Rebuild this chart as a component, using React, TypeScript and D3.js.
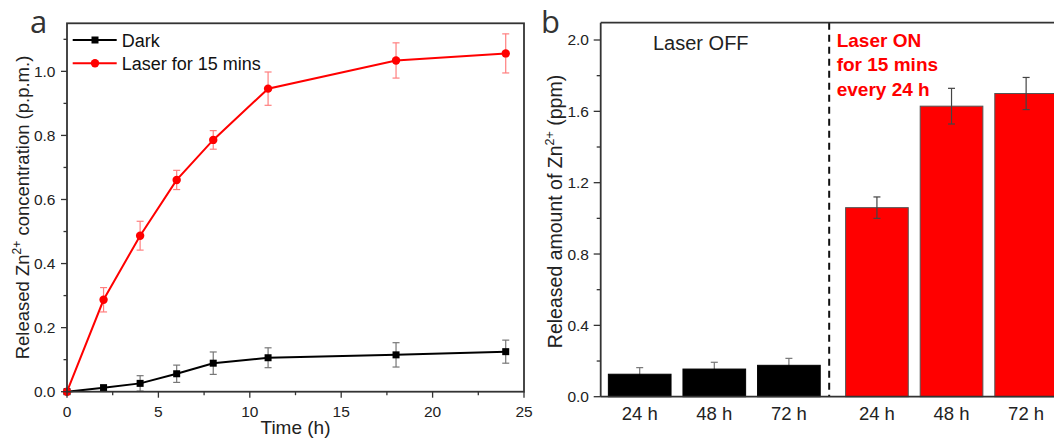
import React from 'react';
import * as d3 from 'd3';

const times = [0, 2, 4, 6, 8, 11, 18, 24];
const darkValues = [0, 0.0125, 0.026, 0.056, 0.089, 0.106, 0.115, 0.125];
const darkErrors = [0, 0.008, 0.024, 0.027, 0.035, 0.031, 0.038, 0.036];
const laserValues = [0, 0.287, 0.487, 0.661, 0.786, 0.946, 1.034, 1.056];
const laserErrors = [0, 0.038, 0.045, 0.03, 0.029, 0.052, 0.055, 0.061];
const seriesNames = ['Dark', 'Laser for 15 mins'];
const xTicksA = [0, 5, 10, 15, 20, 25];
const yTicksA = [0, 0.2, 0.4, 0.6, 0.8, 1.0];

const barLabels = ['24 h', '48 h', '72 h', '24 h', '48 h', '72 h'];
const barValues = [0.126, 0.155, 0.176, 1.06, 1.629, 1.70];
const barErrors = [0.037, 0.038, 0.039, 0.06, 0.10, 0.09];
const barGroups = ['OFF', 'OFF', 'OFF', 'ON', 'ON', 'ON'];
const yTicksB = [0, 0.4, 0.8, 1.2, 1.6, 2.0];

const FONT = "'Liberation Sans', Arial, sans-serif";
const AXIS = '#333';

function PanelA() {
  const x = d3.scaleLinear().domain([0, 25]).range([67, 524]);
  const y = d3.scaleLinear().domain([0, 1.15]).range([391.7, 23.3]);
  const line = d3.line<number>().x((_, i) => x(times[i])).y(d => y(d));
  const minorX = d3.range(0, 25.01, 2.5);
  const minorY = d3.range(0, 1.151, 0.1);
  const [x0, x1] = x.range();
  const [y0, y1] = y.range();
  return (
    <g>
      <text x={30} y={33} fontFamily="'Open Sans', sans-serif" fontSize={31} fill="#333">a</text>
      <path d={line(darkValues) || ''} fill="none" stroke="#000" strokeWidth={2} />
      <path d={line(laserValues) || ''} fill="none" stroke="#ff0000" strokeWidth={2} />
      {times.map((t, i) => {
        const cx = x(t);
        return (
          <g key={'de' + i} stroke="#777" strokeWidth={1.2}>
            <line x1={cx} x2={cx} y1={y(darkValues[i] - darkErrors[i])} y2={y(darkValues[i] + darkErrors[i])} />
            <line x1={cx - 3.5} x2={cx + 3.5} y1={y(darkValues[i] - darkErrors[i])} y2={y(darkValues[i] - darkErrors[i])} />
            <line x1={cx - 3.5} x2={cx + 3.5} y1={y(darkValues[i] + darkErrors[i])} y2={y(darkValues[i] + darkErrors[i])} />
          </g>
        );
      })}
      {times.map((t, i) => {
        const cx = x(t);
        return (
          <g key={'le' + i} stroke="#ff7f7f" strokeWidth={1.2}>
            <line x1={cx} x2={cx} y1={y(laserValues[i] - laserErrors[i])} y2={y(laserValues[i] + laserErrors[i])} />
            <line x1={cx - 3.5} x2={cx + 3.5} y1={y(laserValues[i] - laserErrors[i])} y2={y(laserValues[i] - laserErrors[i])} />
            <line x1={cx - 3.5} x2={cx + 3.5} y1={y(laserValues[i] + laserErrors[i])} y2={y(laserValues[i] + laserErrors[i])} />
          </g>
        );
      })}
      {times.map((t, i) => (
        <rect key={'dm' + i} x={x(t) - 3.5} y={y(darkValues[i]) - 3.5} width={7} height={7} fill="#000" />
      ))}
      {times.map((t, i) => (
        <circle key={'lm' + i} cx={x(t)} cy={y(laserValues[i])} r={4.2} fill="#ff0000" />
      ))}
      <rect x={x0} y={y1} width={x1 - x0} height={y0 - y1} fill="none" stroke={AXIS} strokeWidth={1.8} />
      {minorX.map((v, i) => (
        <line key={'mx' + i} x1={x(v)} x2={x(v)} y1={y0} y2={y0 + (i % 2 === 0 ? 6 : 3.5)} stroke={AXIS} strokeWidth={1.3} />
      ))}
      {xTicksA.map(v => (
        <text key={'xt' + v} x={x(v)} y={417} textAnchor="middle" fontFamily={FONT} fontSize={15.5} fill="#222">{v}</text>
      ))}
      {minorY.map((v, i) => (
        <line key={'my' + i} x1={x0} x2={x0 - (i % 2 === 0 ? 6 : 3.5)} y1={y(v)} y2={y(v)} stroke={AXIS} strokeWidth={1.3} />
      ))}
      {yTicksA.map(v => (
        <text key={'yt' + v} x={55.5} y={y(v) + 5.5} textAnchor="end" fontFamily={FONT} fontSize={15.5} fill="#222">{v.toFixed(1)}</text>
      ))}
      <text x={(x0 + x1) / 2} y={434} textAnchor="middle" fontFamily={FONT} fontSize={19} fill="#222">Time (h)</text>
      <text transform={`translate(28.5, 207.5) rotate(-90)`} textAnchor="middle" fontFamily={FONT} fontSize={18.5} fill="#222">
        Released Zn<tspan dy={-8} fontSize={12}>2+</tspan><tspan dy={8}> concentration (p.p.m.)</tspan>
      </text>
      <line x1={72.7} x2={116.7} y1={40} y2={40} stroke="#000" strokeWidth={2} />
      <rect x={95 - 3.5} y={40 - 3.5} width={7} height={7} fill="#000" />
      <text x={121.7} y={46.5} fontFamily={FONT} fontSize={18} fill="#111">{seriesNames[0]}</text>
      <line x1={72.7} x2={116.7} y1={63.3} y2={63.3} stroke="#ff0000" strokeWidth={2} />
      <circle cx={95} cy={63.3} r={4.2} fill="#ff0000" />
      <text x={121.7} y={69.8} fontFamily={FONT} fontSize={18} fill="#111">{seriesNames[1]}</text>
    </g>
  );
}

function PanelB() {
  const groupGap = 0.18;
  const pos = barGroups.map((g, i) => i + (g === 'ON' ? groupGap : 0));
  const x = d3.scaleLinear().domain([0, 1]).range([639.7, 714.3]);
  const y = d3.scaleLinear().domain([0, 2.097]).range([396.7, 22.7]);
  const bw = x(0.84) - x(0);
  const left = 600.7;
  const right = 1070;
  const [y0, y1] = y.range();
  const minorY = d3.range(0, 2.001, 0.2);
  const dashX = x(2.54);
  const errBar = (v: number, i: number) => {
    const cx = x(pos[i]);
    return (
      <g key={'be' + i} stroke={barGroups[i] === 'ON' ? '#444' : '#777'} strokeWidth={1.2}>
        <line x1={cx} x2={cx} y1={y(v - barErrors[i])} y2={y(v + barErrors[i])} />
        <line x1={cx - 3.5} x2={cx + 3.5} y1={y(v + barErrors[i])} y2={y(v + barErrors[i])} />
        <line x1={cx - 3.5} x2={cx + 3.5} y1={y(v - barErrors[i])} y2={y(v - barErrors[i])} />
      </g>
    );
  };
  return (
    <g>
      <text x={541} y={33} fontFamily="'Open Sans', sans-serif" fontSize={31} fill="#333">b</text>
      {barValues.map((v, i) => (barGroups[i] === 'OFF' ? errBar(v, i) : null))}
      {barValues.map((v, i) => (
        <rect key={'b' + i} x={x(pos[i]) - bw / 2} y={y(v)} width={bw} height={y0 - y(v)}
          fill={barGroups[i] === 'ON' ? '#ff0000' : '#000'} stroke={barGroups[i] === 'ON' ? '#555' : '#000'} strokeWidth={1} />
      ))}
      {barValues.map((v, i) => (barGroups[i] === 'ON' ? errBar(v, i) : null))}
      <line x1={dashX} x2={dashX} y1={y1} y2={y0} stroke="#111" strokeWidth={2} strokeDasharray="7,5" />
      <line x1={left} x2={right} y1={y1} y2={y1} stroke={AXIS} strokeWidth={1.8} />
      <line x1={left} x2={right} y1={y0} y2={y0} stroke={AXIS} strokeWidth={1.8} />
      <line x1={left} x2={left} y1={y1} y2={y0} stroke={AXIS} strokeWidth={1.8} />
      {minorY.map((v, i) => (
        <line key={'my' + i} x1={left} x2={left - (i % 2 === 0 ? 7 : 4)} y1={y(v)} y2={y(v)} stroke={AXIS} strokeWidth={1.3} />
      ))}
      {yTicksB.map(v => (
        <text key={'yt' + v} x={589} y={y(v) + 5.5} textAnchor="end" fontFamily={FONT} fontSize={15.5} fill="#222">{v.toFixed(1)}</text>
      ))}
      {barLabels.map((l, i) => (
        <text key={'xl' + i} x={x(pos[i])} y={420} textAnchor="middle" fontFamily={FONT} fontSize={18.5} fill="#222">{l}</text>
      ))}
      <text transform={`translate(562, 211.5) rotate(-90)`} textAnchor="middle" fontFamily={FONT} fontSize={19.5} fill="#222">
        Released amount of Zn<tspan dy={-8} fontSize={12.5}>2+</tspan><tspan dy={8}> (ppm)</tspan>
      </text>
      <text x={653} y={50} fontFamily={FONT} fontSize={20} fill="#222">Laser OFF</text>
      <g fontFamily={FONT} fontSize={19} fontWeight="bold" fill="#ff0000">
        <text x={836.7} y={46.7}>Laser ON</text>
        <text x={836.7} y={71}>for 15 mins</text>
        <text x={836.7} y={95.5}>every 24 h</text>
      </g>
    </g>
  );
}

export default function App() {
  return (
    <svg width={1054} height={439} viewBox="0 0 1054 439"
      style={{ position: 'absolute', left: 0, top: 0, background: '#fff', overflow: 'hidden' }}>
      <rect x={0} y={0} width={1054} height={439} fill="#fff" />
      <PanelA />
      <PanelB />
    </svg>
  );
}
